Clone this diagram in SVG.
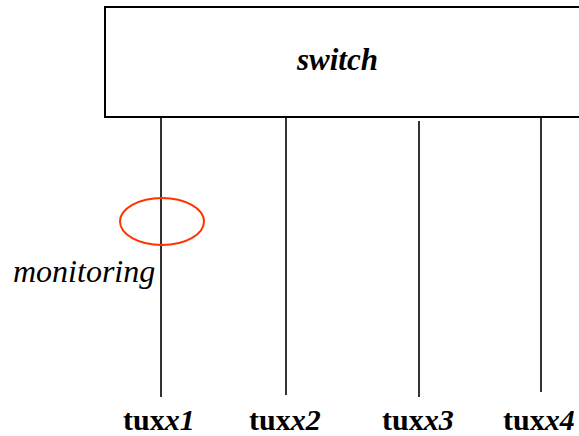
<svg xmlns="http://www.w3.org/2000/svg" width="579" height="436" viewBox="0 0 579 436">
<style>
.t{font-family:"Liberation Serif","Times New Roman",serif;fill:#000}
.lb{font-size:30px;font-weight:bold}
.ln{stroke:#000;stroke-width:1.6;fill:none}
</style>
<rect width="579" height="436" fill="#fff"/>
<g id="switch">
<rect x="105" y="7" width="480" height="110" fill="#fff" stroke="#000" stroke-width="2"/>
<text class="t" x="297" y="70" font-size="31" font-weight="bold" font-style="italic">switch</text>
</g>
<g id="connectors">
<line class="ln" x1="161" y1="117" x2="161" y2="397"/>
<line class="ln" x1="286" y1="117" x2="286" y2="395"/>
<line class="ln" x1="419" y1="121" x2="419" y2="397"/>
<line class="ln" x1="541" y1="117" x2="541" y2="392"/>
</g>
<g id="monitoring">
<ellipse cx="162" cy="221.5" rx="42" ry="23.5" fill="none" stroke="#ff3300" stroke-width="2"/>
<text class="t" x="13" y="282" font-size="32" font-style="italic">monitoring</text>
</g>
<g id="tuxx1"><text class="t lb" x="123" y="430">tux<tspan font-style="italic">x1</tspan></text></g>
<g id="tuxx2"><text class="t lb" x="249" y="430">tux<tspan font-style="italic">x2</tspan></text></g>
<g id="tuxx3"><text class="t lb" x="382" y="430">tux<tspan font-style="italic">x3</tspan></text></g>
<g id="tuxx4"><text class="t lb" x="503" y="430">tux<tspan font-style="italic">x4</tspan></text></g>
</svg>
